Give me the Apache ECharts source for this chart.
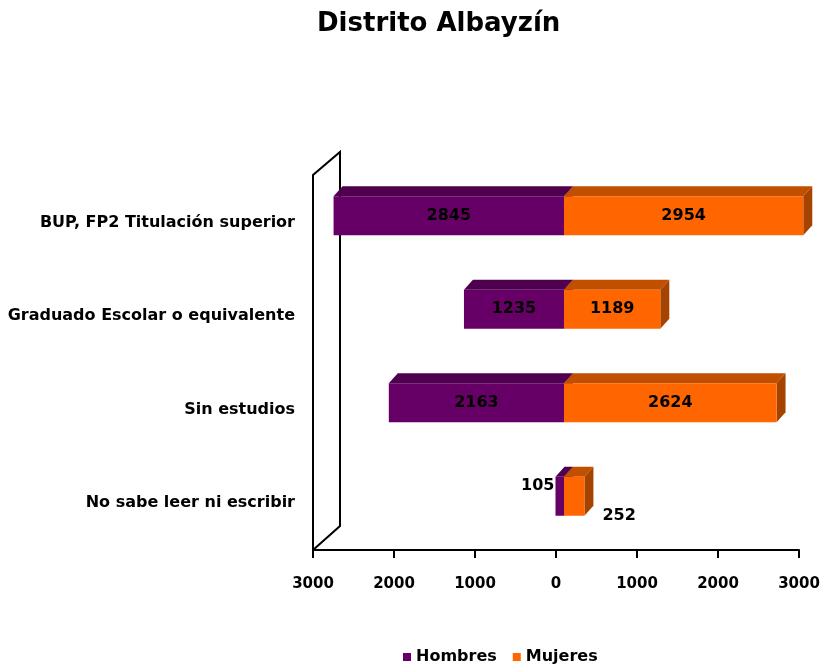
<!DOCTYPE html>
<html>
<head>
<meta charset="utf-8">
<title>Distrito Albayzín</title>
<script src="https://cdn.jsdelivr.net/npm/echarts@6/dist/echarts.min.js"></script>
<style>
    html, body { margin: 0; padding: 0; background: #fff; }
    #main { width: 832px; height: 670px; }
</style>
</head>
<body>
<div id="main"></div>
<script>
// datos (de abajo hacia arriba)
var categorias = ['No sabe leer ni escribir', 'Sin estudios', 'Graduado Escolar o equivalente', 'BUP, FP2 Titulación superior'];
var hombres = [105, 2163, 1235, 2845];
var mujeres = [252, 2624, 1189, 2954];
var ejeMin = -3000, ejeMax = 3000, ejePaso = 1000;

var FUENTE = '"DejaVu Sans", Verdana, sans-serif';
var GL = 313, GR = 33, GT = 176, GB = 120;
// efecto 3D
var DX = 9, DY = -10, DESPL = 8, MEDIO = 19.5, SUBE = 7;

var myChart = echarts.init(document.getElementById('main'));

function bloque(lado, colores) {
    return function (params, api) {
        var cat = api.value(1);
        var v = api.value(0);
        var p0 = api.coord([0, cat]);
        var p1 = api.coord([lado * v, cat]);
        var xl = Math.min(p0[0], p1[0]) + DESPL;
        var xr = Math.max(p0[0], p1[0]) + DESPL;
        var cy = p0[1] - SUBE;
        var top = cy - MEDIO, bot = cy + MEDIO;
        var hijos = [
            {type: 'polygon', shape: {points: [[xl, top], [xr, top], [xr + DX, top + DY], [xl + DX, top + DY]]}, style: {fill: colores[1]}},
            {type: 'polygon', shape: {points: [[xr, top], [xr + DX, top + DY], [xr + DX, bot + DY], [xr, bot]]}, style: {fill: colores[2]}},
            {type: 'rect', shape: {x: xl, y: top, width: xr - xl, height: bot - top}, style: {fill: colores[0]}}
        ];
        var tx, ty, al;
        if (xr - xl > 50) {
            tx = (xl + xr) / 2; ty = cy; al = 'center';
        } else if (lado < 0) {
            tx = xl - 1; ty = cy - 10; al = 'right';
        } else {
            tx = xr + 18; ty = cy + 20; al = 'left';
        }
        hijos.push({
            type: 'text',
            z2: 10,
            style: {
                text: String(v), x: tx, y: ty,
                align: al, verticalAlign: 'middle',
                fill: '#000', fontWeight: 'bold', fontSize: 16, fontFamily: FUENTE
            }
        });
        return {type: 'group', children: hijos};
    };
}

var option = {
    animation: false,
    title: {
        text: 'Distrito Albayzín',
        left: 312,
        top: 6,
        textStyle: {color: '#000', fontSize: 26, fontWeight: 'bold', fontFamily: FUENTE}
    },
    legend: {
        bottom: 0,
        left: 398,
        icon: 'rect',
        itemWidth: 8,
        itemHeight: 8,
        itemGap: 16,
        data: ['Hombres', 'Mujeres'],
        textStyle: {color: '#000', fontSize: 16, fontWeight: 'bold', fontFamily: FUENTE}
    },
    grid: {left: GL, right: GR, top: GT, bottom: GB, containLabel: false},
    xAxis: {
        type: 'value',
        min: ejeMin,
        max: ejeMax,
        interval: ejePaso,
        splitLine: {show: false},
        axisLine: {show: true, lineStyle: {color: '#000', width: 2}},
        axisTick: {show: true, length: 8, lineStyle: {color: '#000', width: 2}},
        axisLabel: {
            margin: 27,
            color: '#000', fontSize: 15, fontWeight: 'bold', fontFamily: FUENTE,
            formatter: function (v) { return String(Math.abs(v)); }
        }
    },
    yAxis: {
        type: 'category',
        data: categorias,
        axisLine: {show: false},
        axisTick: {show: false},
        axisLabel: {margin: 18, color: '#000', fontSize: 16, fontWeight: 'bold', fontFamily: FUENTE}
    },
    series: [
        {
            name: 'Hombres',
            type: 'custom',
            itemStyle: {color: '#660066'},
            encode: {x: 0, y: 1},
            renderItem: bloque(-1, ['#660066', '#4e004e', '#4a004a']),
            data: hombres.map(function (v, i) { return [v, i]; })
        },
        {
            name: 'Mujeres',
            type: 'custom',
            itemStyle: {color: '#ff6600'},
            encode: {x: 0, y: 1},
            renderItem: bloque(1, ['#ff6600', '#c04f00', '#a54400']),
            data: mujeres.map(function (v, i) { return [v, i]; })
        }
    ],
    // pared del fondo
    graphic: [{
        type: 'polyline',
        silent: true,
        shape: {points: [[GL, 670 - GB], [GL, GT - 1], [GL + 27, GT - 24], [GL + 27, 670 - GB - 24], [GL, 670 - GB]]},
        style: {stroke: '#000', lineWidth: 2, fill: null}
    }]
};
myChart.setOption(option);
</script>
</body>
</html>
